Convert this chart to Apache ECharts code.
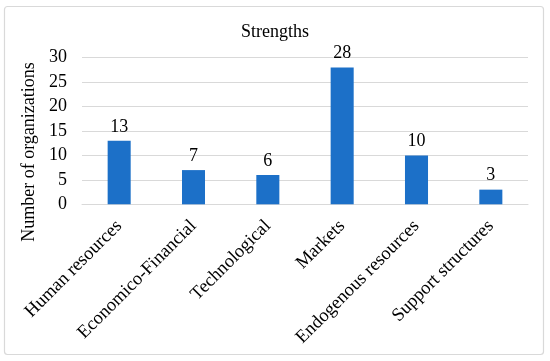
<!DOCTYPE html>
<html><head><meta charset="utf-8">
<script src="https://cdn.jsdelivr.net/npm/echarts@6/dist/echarts.min.js"></script>
<style>html,body{margin:0;padding:0;background:#fff}#c{width:550px;height:361px}</style>
</head><body><div id="c"></div>
<script>
var categories = ["Human resources","Economico-Financial","Technological","Markets","Endogenous resources","Support structures"];
var values = [13,7,6,28,10,3];
var yTicks = {min:0,max:30,interval:5};
var FONT = "Liberation Serif";
var FS = 18;
var chart = echarts.init(document.getElementById('c'));
chart.setOption({
  backgroundColor:'#fff',
  animation:false,
  graphic:[{type:'rect',shape:{x:4.5,y:6.5,width:539,height:348,r:3},style:{fill:'none',stroke:'#d9d9d9',lineWidth:1.2},silent:true}],
  title:{text:'Strengths',left:'center',top:18,textStyle:{fontFamily:FONT,fontSize:FS,fontWeight:'normal',color:'#000'}},
  grid:{left:82,right:22,top:57.7,bottom:156.7},
  xAxis:{type:'category',data:categories,
    axisLine:{lineStyle:{color:'#d9d9d9'}},axisTick:{show:false},
    axisLabel:{rotate:45,interval:0,margin:19,fontFamily:FONT,fontSize:18.5,color:'#000'}},
  yAxis:{type:'value',min:yTicks.min,max:yTicks.max,interval:yTicks.interval,
    name:'Number of organizations',nameLocation:'middle',nameGap:31,
    nameTextStyle:{fontFamily:FONT,fontSize:FS,color:'#000',padding:[0,0,0,-42]},
    axisLine:{show:false},axisTick:{show:false},
    splitLine:{lineStyle:{color:'#d9d9d9'}},
    axisLabel:{margin:15,fontFamily:FONT,fontSize:FS,color:'#000'}},
  series:[{type:'bar',data:values,barWidth:'31%',itemStyle:{color:'#1c70c8'},
    label:{show:true,position:'top',distance:5,fontFamily:FONT,fontSize:FS,color:'#000'}}]
});
</script></body></html>
